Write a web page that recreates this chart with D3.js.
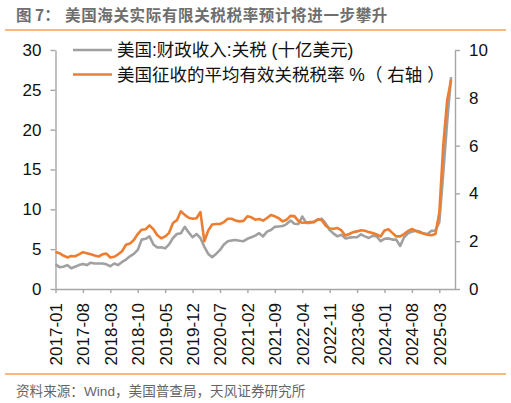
<!DOCTYPE html>
<html>
<head>
<meta charset="utf-8">
<script src="https://cdn.jsdelivr.net/npm/d3@7"></script>
<style>
  html, body { margin: 0; padding: 0; background: #fff; }
  svg { display: block; }
</style>
</head>
<body>
<div id="chart"></div>
<script>
// Monthly categories, 2017-01 .. 2025-06, plus the axis end 2025-07
const fmtMonth = d3.timeFormat('%Y-%m');
const MONTHS = d3.timeMonths(new Date(2017, 0, 1), new Date(2025, 7, 1)).map(fmtMonth);

const TICK_LABELS = ['2017-01', '2017-08', '2018-03', '2018-10', '2019-05', '2019-12', '2020-07',
  '2021-02', '2021-09', '2022-04', '2022-11', '2023-06', '2024-01', '2024-08', '2025-03'];
const LEFT_TICKS = [0, 5, 10, 15, 20, 25, 30];
const RIGHT_TICKS = [0, 2, 4, 6, 8, 10];

// 美国:财政收入:关税 (十亿美元), left axis
const DUTIES = [
  3.1, 2.75, 2.8, 3.0, 2.6, 2.8, 3.0, 3.15, 3.0, 3.3, 3.2, 3.2,
  3.2, 3.1, 2.85, 3.2, 3.0, 3.4, 3.7, 4.1, 4.4, 4.9, 6.2, 6.3,
  6.6, 5.6, 5.2, 5.25, 5.1, 5.6, 6.4, 6.9, 7.0, 7.8, 7.1, 6.5,
  6.9, 6.4, 5.3, 4.4, 4.0, 4.4, 4.9, 5.6, 6.0, 6.1, 6.15, 6.05,
  6.0, 6.3, 6.5, 6.7, 7.0, 6.6, 7.2, 7.4, 7.8, 7.85, 7.9, 8.15,
  8.6, 8.2, 8.15, 9.1, 8.3, 8.3, 8.45, 8.7, 8.8, 8.2, 7.4, 6.95,
  6.6, 6.8, 6.35, 6.45, 6.5, 6.5, 6.85, 6.6, 6.4, 6.7, 6.6, 6.0,
  6.3, 6.35, 6.2, 6.2, 5.4, 6.5, 7.0, 7.2, 7.3, 7.2, 6.95, 6.9,
  7.3, 7.35, 8.4, 14.5, 21.0, 26.6
];

// 美国征收的平均有效关税税率 %, right axis
const RATE = [
  1.55, 1.5, 1.4, 1.32, 1.38, 1.37, 1.45, 1.54, 1.5, 1.45, 1.4, 1.36,
  1.45, 1.48, 1.32, 1.35, 1.45, 1.58, 1.85, 1.9, 2.05, 2.3, 2.48, 2.5,
  2.66, 2.5, 2.25, 2.12, 2.2, 2.35, 2.76, 2.88, 3.25, 3.1, 2.98, 2.94,
  2.96, 3.22, 2.0, 2.45, 2.7, 2.72, 2.72, 2.8, 2.94, 2.94, 2.86, 2.83,
  2.85, 3.04, 3.0, 2.9, 2.93, 2.86, 2.97, 3.1, 3.04, 2.96, 2.83, 2.9,
  3.06, 3.05, 2.85, 2.77, 2.78, 2.8, 2.8, 2.92, 2.88, 2.65, 2.53, 2.52,
  2.55, 2.45, 2.24, 2.3, 2.38, 2.41, 2.46, 2.44, 2.38, 2.34, 2.28, 2.2,
  2.45, 2.5, 2.35, 2.2, 2.2, 2.3, 2.42, 2.51, 2.43, 2.36, 2.32, 2.27,
  2.25, 2.3, 3.2, 6.0, 7.9, 8.75
];

const TITLE_NO = '图 7：';
const TITLE = '美国海关实际有限关税税率预计将进一步攀升';
const SOURCE = '资料来源：Wind，美国普查局，天风证券研究所';
const LEGEND = ['美国:财政收入:关税 (十亿美元)', '美国征收的平均有效关税税率 %（ 右轴 ）'];

const GREY_LINE = '#a0a0a0';
const ORANGE = '#ed7d31';
const RULE = '#f4a25a';
const AXIS = '#a6a6a6';
const FONT_NUM = "'Liberation Sans', Arial, sans-serif";
const FONT_CJK = "'Liberation Sans', 'Noto Sans CJK SC', sans-serif";

const W = 511, H = 403;
const plot = { left: 55.5, right: 455, top: 50, bottom: 289 };

const svg = d3.select('#chart').append('svg')
  .attr('width', W).attr('height', H)
  .attr('viewBox', `0 0 ${W} ${H}`);

// Title and rules
const titleStyle = sel => sel
  .style('font-family', "'Noto Sans CJK SC', sans-serif")
  .style('font-size', '15.5px')
  .style('font-weight', 700)
  .style('fill', '#6e6e6e');

svg.append('text')
  .attr('x', 16).attr('y', 21)
  .call(titleStyle)
  .text(TITLE_NO);

svg.append('text')
  .attr('x', 65).attr('y', 21)
  .call(titleStyle)
  .style('letter-spacing', '0.65px')
  .text(TITLE);

[30, 374].forEach(yy => {
  svg.append('line')
    .attr('x1', 5).attr('x2', 506)
    .attr('y1', yy).attr('y2', yy)
    .attr('stroke', RULE).attr('stroke-width', 1.6);
});

svg.append('text')
  .attr('x', 16).attr('y', 396)
  .style('font-family', FONT_CJK)
  .style('font-size', '13.6px')
  .style('fill', '#666')
  .text(SOURCE);

// Scales
const x = d3.scaleLinear()
  .domain([0, MONTHS.length - 1])
  .range([plot.left, plot.right]);
const yL = d3.scaleLinear().domain([0, 30]).range([plot.bottom, plot.top]);
const yR = d3.scaleLinear().domain([0, 10]).range([plot.bottom, plot.top]);

function styleAxis(ax) {
  ax.select('.domain').attr('stroke', AXIS).attr('stroke-width', 1.4);
  ax.selectAll('.tick line').attr('stroke', AXIS).attr('stroke-width', 1.4);
  ax.selectAll('.tick text')
    .style('font-family', FONT_NUM)
    .style('font-size', '17px')
    .style('fill', '#111');
}

// Left axis
const axL = svg.append('g')
  .attr('transform', `translate(${plot.left},0)`)
  .call(d3.axisLeft(yL).tickValues(LEFT_TICKS).tickSize(5).tickSizeOuter(0).tickPadding(9));
styleAxis(axL);

// Right axis
const axR = svg.append('g')
  .attr('transform', `translate(${plot.right},0)`)
  .call(d3.axisRight(yR).tickValues(RIGHT_TICKS).tickSize(5).tickSizeOuter(0).tickPadding(9));
styleAxis(axR);

// Bottom axis
const axB = svg.append('g')
  .attr('transform', `translate(0,${plot.bottom})`)
  .call(d3.axisBottom(x)
    .tickValues(TICK_LABELS.map(l => MONTHS.indexOf(l)))
    .tickFormat(i => MONTHS[i])
    .tickSize(4).tickSizeOuter(0));
styleAxis(axB);
axB.selectAll('.tick text')
  .attr('transform', 'rotate(-90)')
  .attr('x', -14).attr('y', 0).attr('dy', '0.35em')
  .attr('text-anchor', 'end');

// Series lines
const lineL = d3.line().x((d, i) => x(i)).y(d => yL(d));
const lineR = d3.line().x((d, i) => x(i)).y(d => yR(d));

svg.append('path')
  .datum(DUTIES)
  .attr('fill', 'none')
  .attr('stroke', GREY_LINE)
  .attr('stroke-width', 2.6)
  .attr('stroke-linejoin', 'round')
  .attr('d', lineL);

svg.append('path')
  .datum(RATE)
  .attr('fill', 'none')
  .attr('stroke', ORANGE)
  .attr('stroke-width', 2.6)
  .attr('stroke-linejoin', 'round')
  .attr('d', lineR);

// Legend
const legend = svg.append('g');
[GREY_LINE, ORANGE].forEach((c, i) => {
  const ly = 50 + i * 24.5;
  legend.append('line')
    .attr('x1', 73).attr('x2', 112)
    .attr('y1', ly).attr('y2', ly)
    .attr('stroke', c).attr('stroke-width', 2.6);
  legend.append('text')
    .attr('x', 117).attr('y', ly).attr('dy', '0.36em')
    .style('font-family', FONT_CJK)
    .style('font-size', '17.5px')
    .style('fill', '#111')
    .text(LEGEND[i]);
});
</script>
</body>
</html>
